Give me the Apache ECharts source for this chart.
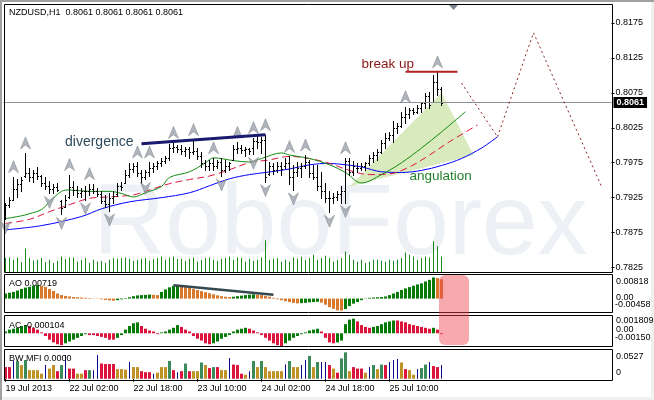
<!DOCTYPE html>
<html><head><meta charset="utf-8">
<script src="https://cdn.jsdelivr.net/npm/echarts@6/dist/echarts.min.js"></script>
<style>html,body{margin:0;padding:0;background:#fff}#c{width:654px;height:400px}</style>
</head><body><div id="c"></div>
<script>
// ---------- data ----------
const tickIdx = [0, 16, 32, 48, 64, 80, 96];
const tickLabels = ['19 Jul 2013', '22 Jul 02:00', '22 Jul 18:00', '23 Jul 10:00', '24 Jul 02:00', '24 Jul 18:00', '25 Jul 10:00'];
const priceTicks = [0.7825, 0.7875, 0.7925, 0.7975, 0.8025, 0.8075, 0.8125, 0.8175];
const slotCount = 152;
const lastPrice = 0.8061;

const opens = [0.7902,0.7915,0.7922,0.7938,0.7944,0.7956,0.7960,0.7955,0.7960,0.7956,
0.7946,0.7942,0.7938,0.7940,0.7920,0.7912,0.7926,0.7940,0.7936,0.7932,
0.7935,0.7934,0.7938,0.7934,0.7930,0.7920,0.7916,0.7924,0.7930,0.7942,
0.7946,0.7958,0.7966,0.7970,0.7960,0.7955,0.7962,0.7968,0.7971,0.7975,
0.7978,0.7982,0.7996,0.7997,0.7995,0.7992,0.7994,0.7990,0.7992,0.7985,
0.7974,0.7970,0.7975,0.7970,0.7976,0.7965,0.7970,0.7979,0.7995,0.7996,
0.7993,0.7994,0.7996,0.8006,0.8005,0.8008,0.7959,0.7970,0.7965,0.7970,
0.7970,0.7975,0.7955,0.7962,0.7968,0.7970,0.7976,0.7960,0.7955,0.7942,
0.7935,0.7925,0.7924,0.7926,0.7930,0.7935,0.7978,0.7962,0.7968,0.7968,
0.7970,0.7974,0.7982,0.7986,0.7990,0.8003,0.8010,0.8015,0.8025,0.8028,
0.8040,0.8044,0.8050,0.8048,0.8054,0.8060,0.8070,0.8062,0.8090,0.8080];
const highs = [0.7918,0.7926,0.7955,0.7951,0.7954,0.7989,0.7968,0.7964,0.7969,0.7958,
0.7955,0.7949,0.7945,0.7946,0.7922,0.7929,0.7958,0.7949,0.7942,0.7939,
0.7941,0.7945,0.7944,0.7939,0.7934,0.7929,0.7931,0.7934,0.7946,0.7948,
0.7965,0.7974,0.7974,0.7976,0.7964,0.7964,0.7976,0.7975,0.7978,0.7982,
0.7985,0.8002,0.8004,0.8001,0.8001,0.7998,0.7998,0.8008,0.7996,0.7991,
0.7979,0.7979,0.7982,0.7979,0.7982,0.7979,0.7976,0.8001,0.8004,0.8001,
0.7998,0.7996,0.8011,0.8015,0.8012,0.8015,0.7976,0.7975,0.7976,0.7976,
0.7982,0.7984,0.7972,0.7976,0.7975,0.7986,0.7979,0.7972,0.7972,0.7962,
0.7946,0.7934,0.7932,0.7934,0.7941,0.7982,0.7982,0.7978,0.7975,0.7975,
0.7976,0.7986,0.7991,0.7994,0.8008,0.8018,0.8019,0.8034,0.8032,0.8048,
0.8055,0.8054,0.8054,0.8058,0.8062,0.8075,0.8076,0.8101,0.8105,0.8084];
const lows = [0.7895,0.7911,0.7922,0.7926,0.7934,0.7955,0.7949,0.7948,0.7952,0.7941,
0.7938,0.7931,0.7931,0.7934,0.7901,0.7912,0.7925,0.7929,0.7926,0.7926,
0.7922,0.7929,0.7932,0.7928,0.7918,0.7911,0.7906,0.7918,0.7928,0.7936,
0.7946,0.7954,0.7961,0.7956,0.7946,0.7951,0.7956,0.7962,0.7966,0.7971,
0.7975,0.7979,0.7991,0.7991,0.7988,0.7985,0.7982,0.7988,0.7981,0.7969,
0.7964,0.7965,0.7965,0.7968,0.7956,0.7962,0.7965,0.7979,0.7989,0.7989,
0.7984,0.7988,0.7987,0.7996,0.7989,0.7948,0.7958,0.7959,0.7961,0.7958,
0.7968,0.7944,0.7936,0.7956,0.7955,0.7968,0.7954,0.7951,0.7936,0.7925,
0.7919,0.7904,0.7918,0.7922,0.7918,0.7918,0.7958,0.7958,0.7962,0.7965,
0.7965,0.7972,0.7976,0.7979,0.7989,0.7996,0.8008,0.8005,0.8018,0.8026,
0.8032,0.8039,0.8044,0.8046,0.8048,0.8054,0.8054,0.8062,0.8072,0.8058];
const closes = [0.7915,0.7922,0.7938,0.7944,0.7950,0.7960,0.7955,0.7960,0.7956,0.7946,
0.7942,0.7938,0.7940,0.7936,0.7910,0.7922,0.7940,0.7936,0.7932,0.7935,
0.7934,0.7938,0.7934,0.7930,0.7920,0.7916,0.7924,0.7928,0.7942,0.7940,
0.7958,0.7966,0.7970,0.7960,0.7955,0.7962,0.7968,0.7971,0.7975,0.7978,
0.7982,0.7996,0.7997,0.7995,0.7992,0.7994,0.7990,0.7992,0.7985,0.7974,
0.7970,0.7975,0.7970,0.7976,0.7965,0.7970,0.7974,0.7995,0.7996,0.7993,
0.7994,0.7992,0.8006,0.8005,0.8008,0.7955,0.7970,0.7965,0.7970,0.7966,
0.7975,0.7955,0.7962,0.7968,0.7970,0.7976,0.7960,0.7955,0.7942,0.7935,
0.7925,0.7924,0.7926,0.7930,0.7935,0.7978,0.7962,0.7970,0.7968,0.7970,
0.7974,0.7982,0.7986,0.7990,0.8003,0.8010,0.8015,0.8025,0.8028,0.8040,
0.8044,0.8050,0.8048,0.8054,0.8060,0.8070,0.8058,0.8090,0.8080,0.8061];
const volumes = [215,225,190,225,155,360,215,180,190,215,
155,190,140,175,240,200,225,225,165,190,
215,140,190,165,175,140,190,215,205,215,
225,205,175,190,205,215,175,200,215,240,
190,225,240,200,205,175,205,225,165,190,
215,225,190,175,205,215,240,190,225,215,
165,205,175,190,225,480,190,205,215,165,
190,165,225,205,240,190,215,265,190,215,
250,215,165,190,215,315,265,190,165,190,
140,165,190,190,175,165,190,175,190,215,
300,265,240,190,215,240,225,465,390,240];

// Alligator lines: [bar index, price] key points (shifted lines reach into the future)
const jaw = [[0,0.7879],[9,0.7885],[19,0.7898],[24,0.7909],[31,0.7919],[39,0.7925],[46,0.7932],[51,0.7942],[56,0.7952],[61,0.7958],[65,0.7961],[71,0.7966],[76,0.7972],[81,0.7974],[85,0.7972],[89,0.7969],[94,0.7962],[99,0.7961],[104,0.7964],[109,0.7971],[114,0.7981],[119,0.7996],[123,0.8012]];
const teeth = [[0,0.7888],[6,0.7894],[11,0.7905],[16,0.7915],[21,0.7924],[26,0.7926],[32,0.7929],[36,0.7936],[41,0.7945],[46,0.7951],[51,0.7956],[56,0.7965],[61,0.7975],[66,0.7979],[71,0.7984],[76,0.7981],[81,0.7974],[86,0.7964],[91,0.7958],[96,0.7959],[101,0.7969],[106,0.7986],[111,0.8005],[118,0.8029]];
const lips = [[0,0.7895],[4,0.7899],[6,0.7902],[9,0.7908],[11,0.7919],[14,0.7934],[16,0.7936],[21,0.7934],[26,0.7934],[29,0.7931],[32,0.7926],[35,0.7932],[39,0.7941],[41,0.7954],[46,0.7962],[50,0.7975],[52,0.7982],[57,0.7978],[61,0.7976],[64,0.7981],[69,0.7989],[71,0.7986],[76,0.7981],[81,0.7972],[85,0.7961],[89,0.7946],[94,0.7958],[99,0.7975],[104,0.7996],[109,0.8019],[115,0.8048]];

const upFractals = [2,5,16,21,33,36,42,47,52,58,62,65,71,75,85,100,108];
const downFractals = [0,11,14,20,26,35,54,62,65,72,81,85];

const aoValues = [0.0019,0.0022,0.0025,0.0030,0.0036,0.0041,0.0044,0.0048,0.0051,0.0048,
0.0044,0.0036,0.0028,0.0019,0.0013,0.0010,0.0008,0.0006,0.0005,0.0004,
0.0003,0.0002,0.0001,-0.0001,-0.0003,-0.0005,-0.0007,-0.0008,-0.0006,-0.0003,
0.0002,0.0005,0.0009,0.0012,0.0013,0.0014,0.0015,0.0014,0.0013,0.0025,
0.0034,0.0042,0.0048,0.0049,0.0046,0.0043,0.0040,0.0036,0.0032,0.0028,
0.0024,0.0020,0.0016,0.0012,0.0009,0.0007,0.0006,0.0007,0.0009,0.0011,
0.0013,0.0015,0.0016,0.0015,0.0013,0.0010,0.0007,0.0003,-0.0003,-0.0006,
-0.0010,-0.0013,-0.0016,-0.0018,-0.0017,-0.0016,-0.0014,-0.0013,-0.0012,-0.0015,
-0.0023,-0.0032,-0.0038,-0.0044,-0.0045,-0.0039,-0.0028,-0.0019,-0.0013,-0.0006,
0.0001,0.0003,0.0004,0.0005,0.0006,0.0008,0.0013,0.0019,0.0025,0.0032,
0.0038,0.0043,0.0048,0.0053,0.0057,0.0064,0.0070,0.0079,0.0077,0.0072];
const acValues = [0.0002,0.0004,0.0005,0.0006,0.0008,0.0009,0.0008,0.0006,0.0004,0.0001,
-0.0003,-0.0007,-0.0010,-0.0012,-0.0013,-0.0011,-0.0009,-0.0007,-0.0005,-0.0003,
-0.0001,-0.0002,-0.0002,-0.0003,-0.0004,-0.0005,-0.0007,-0.0007,-0.0005,-0.0002,
0.0004,0.0008,0.0011,0.0012,0.0008,0.0005,0.0003,0.0002,-0.0001,0.0001,
0.0002,0.0004,0.0006,0.0009,0.0007,0.0004,0.0002,-0.0003,-0.0006,-0.0008,
-0.0011,-0.0012,-0.0011,-0.0009,-0.0006,-0.0004,-0.0002,0.0002,0.0004,0.0005,
0.0006,0.0005,0.0003,0.0001,-0.0002,-0.0005,-0.0008,-0.0011,-0.0013,-0.0014,
-0.0011,-0.0008,-0.0005,-0.0003,-0.0001,0.0001,0.0003,0.0004,0.0005,0.0002,
-0.0005,-0.0010,-0.0011,-0.0010,-0.0008,0.0010,0.0015,0.0016,0.0013,0.0009,
0.0007,0.0006,0.0007,0.0008,0.0010,0.0012,0.0013,0.0014,0.0014,0.0013,
0.0012,0.0010,0.0009,0.0008,0.0007,0.0006,0.0005,0.0006,0.0004,-0.0001];
const mfiValues = [0.023,0.023,0.035,0.035,0.027,0.037,0.017,0.017,0.017,0.010,
0.027,0.020,0.027,0.015,0.027,0.047,0.020,0.020,0.010,0.010,
0.017,0.017,0.017,0.047,0.030,0.029,0.029,0.029,0.019,0.019,
0.018,0.033,0.023,0.023,0.015,0.013,0.013,0.010,0.012,0.023,
0.023,0.035,0.017,0.013,0.015,0.030,0.015,0.015,0.015,0.032,
0.027,0.021,0.023,0.023,0.017,0.017,0.041,0.028,0.027,0.010,
0.008,0.015,0.035,0.023,0.035,0.023,0.015,0.015,0.015,0.015,
0.028,0.035,0.023,0.023,0.027,0.037,0.045,0.023,0.033,0.033,
0.033,0.027,0.020,0.012,0.040,0.052,0.015,0.023,0.020,0.020,
0.012,0.023,0.027,0.019,0.028,0.027,0.033,0.037,0.039,0.032,
0.019,0.017,0.008,0.019,0.021,0.028,0.033,0.025,0.023,0.027];
// g = green, o = brown, r = red, n = blue (thin)
const mfiKinds = ('rrngogoooo' + 'noorgnrroo' + 'rgnnrrrroo' + 'onoorrrnoo' + 'ogrnrgroog' +
  'orgroonrrr' + 'ongogooooo' + 'ngoonngogn' + 'nrorggorrr' + 'ongogrnnno' + 'roonggnrrn').split('');

// annotations ([bar index, price])
const divergenceLine = [[34, 0.8002], [65, 0.8015]];
const breakUpLine = [[100, 0.8105], [113, 0.8105]];
const projection = [[114, 0.8089], [123, 0.8012], [132, 0.8161], [149, 0.7941]];
const angulationArea = [[86, 0.7941], [109, 0.8075], [117, 0.7986]];
const aoDivergence = [[42, 0.0050], [67, 0.0014]];
const noteTexts = ['divergence', 'break up', 'angulation'];
const notePoints = [[32, 0.8004], [89, 0.8116], [101, 0.7955]];

// ---------- chart ----------
const FONT = '"Liberation Sans", Arial, sans-serif';
const cats = Array.from({length: slotCount}, (_, i) => String(i));
const ohlc = opens.map((o, i) => [i, o, closes[i], lows[i], highs[i]]);
const GREEN = '#087a08', ORANGE = '#d9772b', RED = '#dc143c';
const aoData = aoValues.map((v, i) => ({value: v, itemStyle: {color: (i === 0 || v > aoValues[i - 1]) ? GREEN : ORANGE}}));
const acData = acValues.map((v, i) => ({value: v, itemStyle: {color: (i === 0 || v > acValues[i - 1]) ? GREEN : RED}}));
const kindColor = {g: '#3a8a5a', o: '#bf9226', r: '#dc143c'};
const mfiWide = mfiValues.map((v, i) => mfiKinds[i] === 'n' ? null : {value: v, itemStyle: {color: kindColor[mfiKinds[i]]}});
const mfiThin = mfiValues.map((v, i) => mfiKinds[i] === 'n' ? v : null);
const ARROW = 'path://M5 0 L10 11 L5 7.5 L0 11 Z';

const grids = [
  {left: 3.5, top: 4.5, width: 608, height: 268},
  {left: 3.5, top: 274.5, width: 608, height: 38},
  {left: 3.5, top: 315.5, width: 608, height: 31},
  {left: 3.5, top: 349.5, width: 608, height: 31}
];
function hiddenX(g) { return {type: 'category', gridIndex: g, data: cats, show: false}; }
const showTick = (i) => tickIdx.includes(i);

const option = {
  animation: false,
  backgroundColor: '#ffffff',
  grid: grids,
  xAxis: [hiddenX(0), hiddenX(1), hiddenX(2),
    {type: 'category', gridIndex: 3, data: cats,
      axisLine: {show: false}, splitLine: {show: false},
      axisTick: {show: true, length: 3, alignWithLabel: true, interval: showTick, lineStyle: {color: '#000'}},
      axisLabel: {show: true, interval: showTick, formatter: (v, i) => tickLabels[tickIdx.indexOf(i)] || '',
        align: 'left', margin: 4, fontSize: 9, color: '#000', fontFamily: FONT}},
    hiddenX(3)],
  yAxis: [
    {type: 'value', gridIndex: 0, position: 'right', min: 0.78179, max: 0.82014, scale: true,
      axisLine: {show: false}, splitLine: {show: false},
      axisTick: {show: true, length: 3, lineStyle: {color: '#000'}, customValues: priceTicks},
      axisLabel: {customValues: priceTicks, formatter: (v) => v.toFixed(4), margin: 4, fontSize: 9, color: '#000', fontFamily: FONT}},
    {type: 'value', gridIndex: 0, show: false, min: 0, max: 4000},
    {type: 'value', gridIndex: 1, show: false, min: -0.0052, max: 0.0090},
    {type: 'value', gridIndex: 2, show: false, min: -0.00145, max: 0.00195},
    {type: 'value', gridIndex: 3, show: false, min: -0.0034, max: 0.0576}
  ],
  series: [
    {type: 'custom', name: 'angulation area', xAxisIndex: 0, yAxisIndex: 0, z: 1, silent: true,
      data: [[0, 0]], encode: {x: 0, y: 1},
      renderItem: (p, api) => ({type: 'polygon', shape: {points: angulationArea.map(pt => api.coord(pt))},
        style: {fill: '#d9ebbd'}})},
    {type: 'bar', name: 'volume', xAxisIndex: 0, yAxisIndex: 1, data: volumes, barWidth: 1,
      itemStyle: {color: '#1a8a1a'}, z: 2, silent: true},
    {type: 'line', name: 'jaw', xAxisIndex: 0, yAxisIndex: 0, data: jaw, smooth: 0.35, showSymbol: false,
      lineStyle: {color: '#0000ff', width: 1}, z: 3, silent: true,
      markLine: {silent: true, symbol: ['none', 'none'], precision: 4,
        lineStyle: {color: '#8c9098', width: 1, type: 'solid'},
        label: {show: true, position: 'end', distance: 2, formatter: lastPrice.toFixed(4), color: '#fff',
          backgroundColor: '#000', padding: [1, 3, 1, 3], fontSize: 9, fontWeight: 'bold', fontFamily: FONT},
        data: [{yAxis: lastPrice}]}},
    {type: 'line', name: 'teeth', xAxisIndex: 0, yAxisIndex: 0, data: teeth, smooth: 0.35, showSymbol: false,
      lineStyle: {color: '#dc143c', width: 1, type: [7, 4]}, z: 3, silent: true},
    {type: 'line', name: 'lips', xAxisIndex: 0, yAxisIndex: 0, data: lips, smooth: 0.35, showSymbol: false,
      lineStyle: {color: '#108a10', width: 1}, z: 3, silent: true},
    {type: 'custom', name: 'NZDUSD', xAxisIndex: 0, yAxisIndex: 0, z: 4, silent: true,
      data: ohlc, encode: {x: 0, y: [1, 2, 3, 4]},
      renderItem: (p, api) => {
        const i = api.value(0);
        const o = api.coord([i, api.value(1)]), c = api.coord([i, api.value(2)]);
        const l = api.coord([i, api.value(3)]), h = api.coord([i, api.value(4)]);
        const x = Math.floor(o[0]) + 0.5;
        const st = {stroke: '#000', lineWidth: 1};
        const yo = Math.round(o[1]) + 0.5, yc = Math.round(c[1]) + 0.5;
        return {type: 'group', children: [
          {type: 'line', shape: {x1: x, y1: Math.round(h[1]), x2: x, y2: Math.round(l[1]) + 1}, style: st},
          {type: 'line', shape: {x1: x - 1.5, y1: yo, x2: x - 0.5, y2: yo}, style: st},
          {type: 'line', shape: {x1: x + 0.5, y1: yc, x2: x + 1.5, y2: yc}, style: st}
        ]};
      }},
    {type: 'scatter', name: 'fractal up', xAxisIndex: 0, yAxisIndex: 0, z: 5, silent: true,
      data: upFractals.map(i => [i, highs[i]]), symbol: ARROW, symbolSize: [10, 12], symbolOffset: [0, -10],
      itemStyle: {color: '#9ea3ac', borderColor: '#767b83', borderWidth: 0.6}},
    {type: 'scatter', name: 'fractal down', xAxisIndex: 0, yAxisIndex: 0, z: 5, silent: true,
      data: downFractals.map(i => [i, lows[i]]), symbol: ARROW, symbolSize: [10, 12], symbolRotate: 180, symbolOffset: [0, 9],
      itemStyle: {color: '#9ea3ac', borderColor: '#767b83', borderWidth: 0.6}},
    {type: 'line', name: 'divergence', xAxisIndex: 0, yAxisIndex: 0, data: divergenceLine, showSymbol: false,
      lineStyle: {color: '#191970', width: 3}, z: 6, silent: true},
    {type: 'line', name: 'break up', xAxisIndex: 0, yAxisIndex: 0, data: breakUpLine, showSymbol: false,
      lineStyle: {color: '#b22222', width: 2}, z: 6, silent: true},
    {type: 'line', name: 'projection', xAxisIndex: 0, yAxisIndex: 0, data: projection, showSymbol: false,
      lineStyle: {color: '#8b2323', width: 1, type: [2, 3]}, z: 6, silent: true},
    {type: 'custom', name: 'notes', xAxisIndex: 0, yAxisIndex: 0, z: 7, silent: true, clip: false,
      data: [[0, 0]], encode: {x: 0, y: 1},
      renderItem: (p, api) => {
        const colors = ['#2e4a5c', '#8b1414', '#23802a'];
        const aligns = ['right', 'left', 'left'];
        const sizes = [14, 13.5, 13.5];
        return {type: 'group', children: noteTexts.map((t, k) => {
          const c = api.coord(notePoints[k]);
          return {type: 'text', x: c[0], y: c[1], style: {text: t, fill: colors[k], align: aligns[k],
            verticalAlign: 'middle', font: sizes[k] + 'px ' + FONT}};
        })};
      }},
    {type: 'bar', name: 'AO', xAxisIndex: 1, yAxisIndex: 2, data: aoData, barWidth: 3, silent: true},
    {type: 'line', name: 'AO divergence', xAxisIndex: 1, yAxisIndex: 2, data: aoDivergence, showSymbol: false,
      lineStyle: {color: '#34484f', width: 2.5}, z: 6, silent: true},
    {type: 'bar', name: 'AC', xAxisIndex: 2, yAxisIndex: 3, data: acData, barWidth: 3, silent: true},
    {type: 'bar', name: 'BW MFI', xAxisIndex: 3, yAxisIndex: 4, data: mfiWide, barWidth: 3, silent: true},
    {type: 'bar', name: 'BW MFI fake', xAxisIndex: 4, yAxisIndex: 4, data: mfiThin, barWidth: 1,
      itemStyle: {color: '#0a0a8c'}, silent: true}
  ],
  graphic: [
    {type: 'text', z: 0, silent: true, x: 93, y: 226,
      style: {text: 'RoboForex', font: '100px ' + FONT, fill: '#edf0f5', verticalAlign: 'middle'}},
    {type: 'rect', z: 40, silent: true, shape: {x: 0, y: 0, width: 654, height: 2}, style: {fill: '#a0a0a0'}},
    {type: 'rect', z: 40, silent: true, shape: {x: 0, y: 0, width: 2, height: 400}, style: {fill: '#a0a0a0'}},
    {type: 'rect', z: 40, silent: true, shape: {x: 2, y: 397, width: 652, height: 3}, style: {fill: '#f0f0f0'}},
    {type: 'rect', z: 40, silent: true, shape: {x: 651, y: 2, width: 3, height: 395}, style: {fill: '#f0f0f0'}},
    {type: 'rect', z: 50, silent: true, shape: {x: 4.5, y: 4.5, width: 608, height: 268}, style: {fill: 'none', stroke: '#000', lineWidth: 1}},
    {type: 'rect', z: 50, silent: true, shape: {x: 4.5, y: 274.5, width: 608, height: 38}, style: {fill: 'none', stroke: '#000', lineWidth: 1}},
    {type: 'rect', z: 50, silent: true, shape: {x: 4.5, y: 315.5, width: 608, height: 31}, style: {fill: 'none', stroke: '#000', lineWidth: 1}},
    {type: 'rect', z: 50, silent: true, shape: {x: 4.5, y: 349.5, width: 608, height: 31}, style: {fill: 'none', stroke: '#000', lineWidth: 1}},
    {type: 'polygon', z: 50, silent: true, shape: {points: [[449, 5], [458, 5], [453.5, 10]]}, style: {fill: '#7a8390'}},
    {type: 'text', z: 50, silent: true, x: 9, y: 13, style: {text: 'NZDUSD,H1  0.8061 0.8061 0.8061 0.8061', font: '9px ' + FONT, fill: '#000', verticalAlign: 'middle'}},
    {type: 'text', z: 50, silent: true, x: 9, y: 284, style: {text: 'AO 0.00719', font: '9px ' + FONT, fill: '#000', verticalAlign: 'middle'}},
    {type: 'text', z: 50, silent: true, x: 9, y: 326, style: {text: 'AC -0.000104', font: '9px ' + FONT, fill: '#000', verticalAlign: 'middle'}},
    {type: 'text', z: 50, silent: true, x: 9, y: 359, style: {text: 'BW MFI 0.0000', font: '9px ' + FONT, fill: '#000', verticalAlign: 'middle'}},
    {type: 'text', z: 50, silent: true, x: 616, y: 282, style: {text: '0.00818', font: '9px ' + FONT, fill: '#000', verticalAlign: 'middle'}},
    {type: 'text', z: 50, silent: true, x: 616, y: 297.5, style: {text: '0.00', font: '9px ' + FONT, fill: '#000', verticalAlign: 'middle'}},
    {type: 'text', z: 50, silent: true, x: 615, y: 304.5, style: {text: '-0.00458', font: '9px ' + FONT, fill: '#000', verticalAlign: 'middle'}},
    {type: 'text', z: 50, silent: true, x: 616, y: 321, style: {text: '0.001809', font: '9px ' + FONT, fill: '#000', verticalAlign: 'middle'}},
    {type: 'text', z: 50, silent: true, x: 616, y: 330, style: {text: '0.00', font: '9px ' + FONT, fill: '#000', verticalAlign: 'middle'}},
    {type: 'text', z: 50, silent: true, x: 615, y: 338, style: {text: '-0.00150', font: '9px ' + FONT, fill: '#000', verticalAlign: 'middle'}},
    {type: 'text', z: 50, silent: true, x: 616, y: 356.5, style: {text: '0.0527', font: '9px ' + FONT, fill: '#000', verticalAlign: 'middle'}},
    {type: 'text', z: 50, silent: true, x: 616, y: 373, style: {text: '0', font: '9px ' + FONT, fill: '#000', verticalAlign: 'middle'}},
    {type: 'rect', z: 60, silent: true, shape: {x: 439, y: 275, width: 30, height: 70, r: 6}, style: {fill: 'rgba(240,64,75,0.45)'}}
  ]
};
const chart = echarts.init(document.getElementById('c'), null, {renderer: 'canvas', width: 654, height: 400});
chart.setOption(option);
</script>
</body></html>
